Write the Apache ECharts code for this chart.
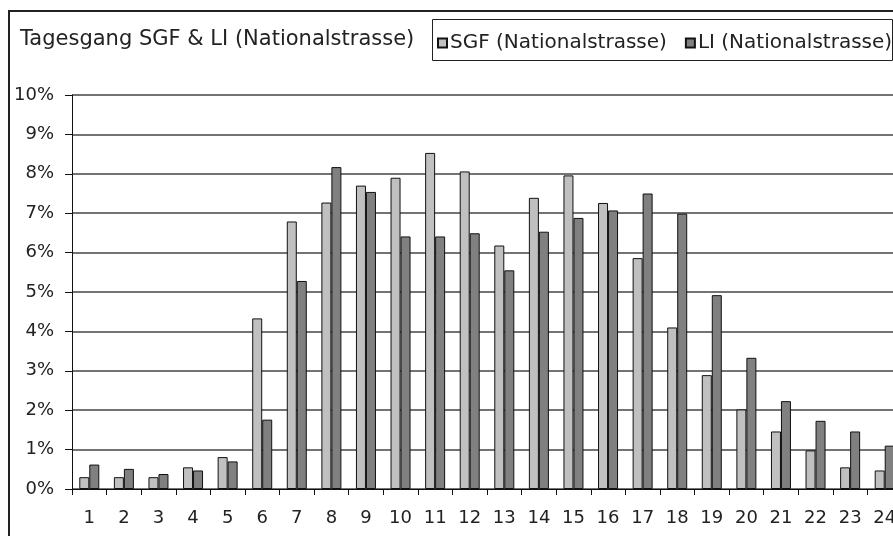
<!DOCTYPE html>
<html>
<head>
<meta charset="utf-8">
<script src="https://cdn.jsdelivr.net/npm/echarts@6/dist/echarts.min.js"></script>
<style>
  html, body { margin: 0; padding: 0; background: #fff; }
  #chart { width: 893px; height: 536px; }
</style>
</head>
<body>
<div id="chart"></div>
<script>
// Hourly share of daily traffic (percent), hours 1..24
const hours = ['1','2','3','4','5','6','7','8','9','10','11','12','13','14','15','16','17','18','19','20','21','22','23','24'];
const sgf = [0.30, 0.30, 0.30, 0.55, 0.81, 4.33, 6.79, 7.27, 7.70, 7.90, 8.53, 8.06, 6.18, 7.39, 7.96, 7.26, 5.86, 4.10, 2.89, 2.02, 1.46, 0.98, 0.55, 0.47];
const li  = [0.62, 0.51, 0.38, 0.47, 0.70, 1.76, 5.28, 8.17, 7.54, 6.41, 6.41, 6.49, 5.55, 6.53, 6.88, 7.07, 7.50, 6.99, 4.92, 3.33, 2.23, 1.73, 1.46, 1.10];
const seriesNames = ['SGF (Nationalstrasse)', 'LI (Nationalstrasse)'];
const titleText = 'Tagesgang SGF & LI (Nationalstrasse)';

const FONT = '"DejaVu Sans", "Liberation Sans", Arial, sans-serif';
const chart = echarts.init(document.getElementById('chart'), null, { renderer: 'canvas' });

chart.setOption({
  backgroundColor: '#fff',
  animation: false,
  textStyle: { fontFamily: FONT, color: '#222' },
  title: {
    text: titleText,
    left: 15,
    top: 24,
    textStyle: { fontFamily: FONT, fontSize: 21, fontWeight: 'normal', color: '#222' }
  },
  legend: {
    data: seriesNames,
    left: 432,
    top: 28,
    width: 520,
    icon: 'rect',
    itemWidth: 9,
    itemHeight: 9,
    itemGap: 18,
    textStyle: { fontFamily: FONT, fontSize: 20, color: '#222', padding: [0, 0, 0, -2] }
  },
  graphic: [
    { type: 'rect', shape: { x: 9, y: 11, width: 900, height: 600 },
      style: { fill: null, stroke: '#222', lineWidth: 2 }, silent: true },
    { type: 'rect', shape: { x: 432.5, y: 19.5, width: 460, height: 41 },
      style: { fill: null, stroke: '#222', lineWidth: 1 }, silent: true }
  ],
  // plot area runs slightly past the right edge of the canvas
  grid: { left: 72, top: 95, width: 830, height: 394, containLabel: false, outerBoundsMode: 'none' },
  xAxis: {
    type: 'category',
    data: hours,
    axisLine: { lineStyle: { color: '#111', width: 1 } },
    axisTick: { show: true, length: 6, lineStyle: { color: '#111' } },
    axisLabel: { fontFamily: FONT, fontSize: 18, color: '#222', margin: 20 },
    splitLine: { show: false }
  },
  yAxis: {
    type: 'value',
    min: 0,
    max: 10,
    interval: 1,
    axisLine: { show: true, lineStyle: { color: '#111', width: 1 } },
    axisTick: { show: true, length: 7, lineStyle: { color: '#111' } },
    axisLabel: { fontFamily: FONT, fontSize: 18, color: '#222', margin: 18, formatter: '{value}%' },
    splitLine: { show: true, lineStyle: { color: '#444', width: 1.5 } }
  },
  series: [
    {
      name: seriesNames[0], type: 'bar', data: sgf,
      barWidth: 10, barGap: '0%',
      itemStyle: { color: '#c0c0c0', borderColor: '#111', borderWidth: 1 }
    },
    {
      name: seriesNames[1], type: 'bar', data: li,
      barWidth: 10,
      itemStyle: { color: '#808080', borderColor: '#111', borderWidth: 1 }
    }
  ]
});
</script>
</body>
</html>
